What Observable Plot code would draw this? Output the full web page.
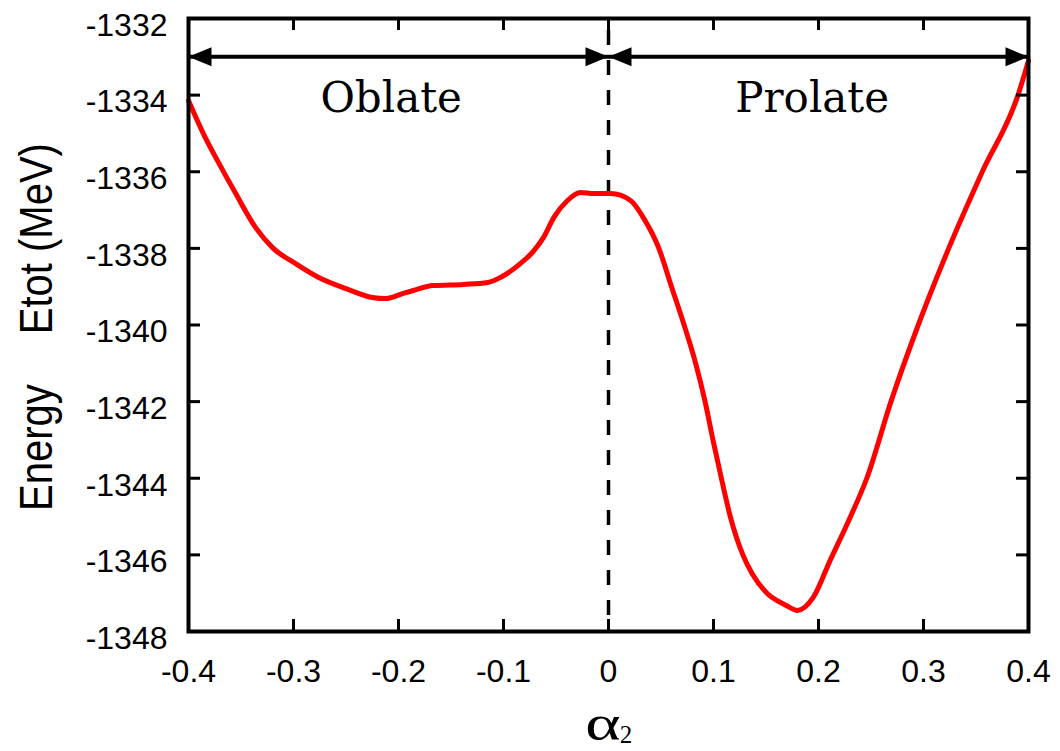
<!DOCTYPE html>
<html>
<head>
<meta charset="utf-8">
<script src="https://cdn.jsdelivr.net/npm/d3@7"></script>
<script src="https://cdn.jsdelivr.net/npm/@observablehq/plot@0.6"></script>
<style>
  html, body { margin: 0; padding: 0; background: #fff; }
  #chart { width: 1060px; height: 751px; }
</style>
</head>
<body>
<div id="chart"></div>
<script>
// ---- data ----
const alpha2 = [-0.400, -0.384, -0.371, -0.355, -0.336, -0.320, -0.298, -0.276, -0.250, -0.225, -0.212, -0.196, -0.186, -0.167, -0.138, -0.115, -0.103, -0.084, -0.071, -0.062, -0.052, -0.039, -0.027, -0.014, 0.002, 0.021, 0.033, 0.048, 0.060, 0.072, 0.083, 0.092, 0.0995, 0.1075, 0.116, 0.128, 0.137, 0.151, 0.168, 0.180, 0.195, 0.211, 0.230, 0.246, 0.269, 0.295, 0.324, 0.356, 0.390, 0.400];
const energy = [-1334.14, -1335.11, -1335.78, -1336.57, -1337.46, -1337.98, -1338.40, -1338.76, -1339.05, -1339.28, -1339.31, -1339.18, -1339.10, -1338.97, -1338.94, -1338.89, -1338.76, -1338.40, -1338.06, -1337.72, -1337.19, -1336.75, -1336.54, -1336.57, -1336.57, -1336.75, -1337.19, -1338.0, -1339.0, -1340.0, -1341.0, -1342.0, -1343.0, -1344.0, -1345.0, -1346.0, -1346.5, -1347.0, -1347.3, -1347.45, -1347.11, -1346.15, -1345.03, -1344.0, -1342.0, -1340.0, -1338.0, -1336.0, -1334.0, -1333.1];
const xTicks = [-0.4, -0.3, -0.2, -0.1, 0, 0.1, 0.2, 0.3, 0.4];
const yTicks = [-1332, -1334, -1336, -1338, -1340, -1342, -1344, -1346, -1348];
const regionNames = ["Oblate", "Prolate"];
const regionCenters = [-0.207, 0.194];
const regionLevel = -1334.1;
const arrowLevel = -1333;
const arrowTipX = [-0.4, 0, 0, 0.4];
const arrowDir = ["left", "right", "left", "right"];
const dividerX = [0];

// ---- build ----
const W = 1060, H = 751, mT = 18, mR = 32, mB = 120, mL = 188;
const plotW = W - mL - mR, plotH = H - mT - mB;
const curve = alpha2.map((a, i) => ({a, e: energy[i]}));
const regions = regionNames.map((n, i) => ({n, x: regionCenters[i], y: regionLevel}));
const tips = arrowTipX.map((x, i) => ({x, y: arrowLevel, dir: arrowDir[i]}));
const headSymbol = {
  draw(ctx) { ctx.moveTo(0, 0); ctx.lineTo(-23, -9.5); ctx.lineTo(-23, 9.5); ctx.closePath(); }
};
const fmt = d => (d === 0 ? "0" : (Number.isInteger(d) ? String(d) : d.toFixed(1)));

const chart = Plot.plot({
  width: W, height: H,
  marginTop: mT, marginRight: mR, marginBottom: mB, marginLeft: mL,
  x: {domain: [-0.4, 0.4]},
  y: {domain: [-1348, -1332]},
  style: {fontFamily: "'Liberation Sans', Arial, sans-serif", fontSize: "32px", color: "#000", background: "#fff"},
  marks: [
    Plot.ruleX(dividerX, {strokeWidth: 3.5, strokeDasharray: "15,15", strokeDashoffset: 18, stroke: "#000"}),
    Plot.line(curve, {x: "a", y: "e", stroke: "#ff0000", strokeWidth: 5, curve: "monotone-x"}),
    Plot.ruleY([arrowLevel], {strokeWidth: 4, stroke: "#000"}),
    Plot.dot(tips, {x: "x", y: "y", symbol: headSymbol, fill: "#000", stroke: null,
      rotate: d => (d.dir === "left" ? 180 : 0),
      dx: 0}),
    Plot.text(regions, {x: "x", y: "y", text: "n", fontFamily: "'DejaVu Serif', serif", fontSize: 42, fill: "#000"}),
    Plot.frame({strokeWidth: 4, stroke: "#000"}),
    Plot.tickX(xTicks, {x: d => d, insetTop: plotH - 12, strokeWidth: 3}),
    Plot.tickX(xTicks, {x: d => d, insetBottom: plotH - 12, strokeWidth: 3}),
    Plot.tickY(yTicks, {y: d => d, insetRight: plotW - 12, strokeWidth: 3}),
    Plot.tickY(yTicks, {y: d => d, insetLeft: plotW - 12, strokeWidth: 3}),
    Plot.axisX(xTicks, {tickSize: 0, tickPadding: 28, tickFormat: fmt, label: null, fontSize: 32}),
    Plot.axisY(yTicks, {tickSize: 0, tickPadding: 21, tickFormat: fmt, label: null, fontSize: 32, dy: 7})
  ]
});
document.getElementById("chart").appendChild(chart);

// axis titles with sub-structure
const svg = d3.select(chart);
const yt = svg.append("text")
  .attr("transform", "translate(52,327) rotate(-90) scale(1,1.15)")
  .attr("text-anchor", "middle")
  .attr("font-family", "'Liberation Sans', Arial, sans-serif")
  .attr("font-size", 40)
  .attr("fill", "#000");
yt.append("tspan").text("Energy");
yt.append("tspan").attr("dx", 50).text("E");
yt.append("tspan").text("tot");
yt.append("tspan").text(" (MeV)");

svg.append("text")
  .attr("transform", "translate(603,740) scale(1.35,1)")
  .attr("text-anchor", "middle")
  .attr("font-family", "'Liberation Serif', 'Times New Roman', serif")
  .attr("font-size", 50)
  .attr("fill", "#000")
  .text("α");
svg.append("text")
  .attr("x", 626).attr("y", 743)
  .attr("font-family", "'Liberation Serif', 'Times New Roman', serif")
  .attr("font-size", 25)
  .attr("fill", "#000")
  .text("2");
</script>
</body>
</html>
